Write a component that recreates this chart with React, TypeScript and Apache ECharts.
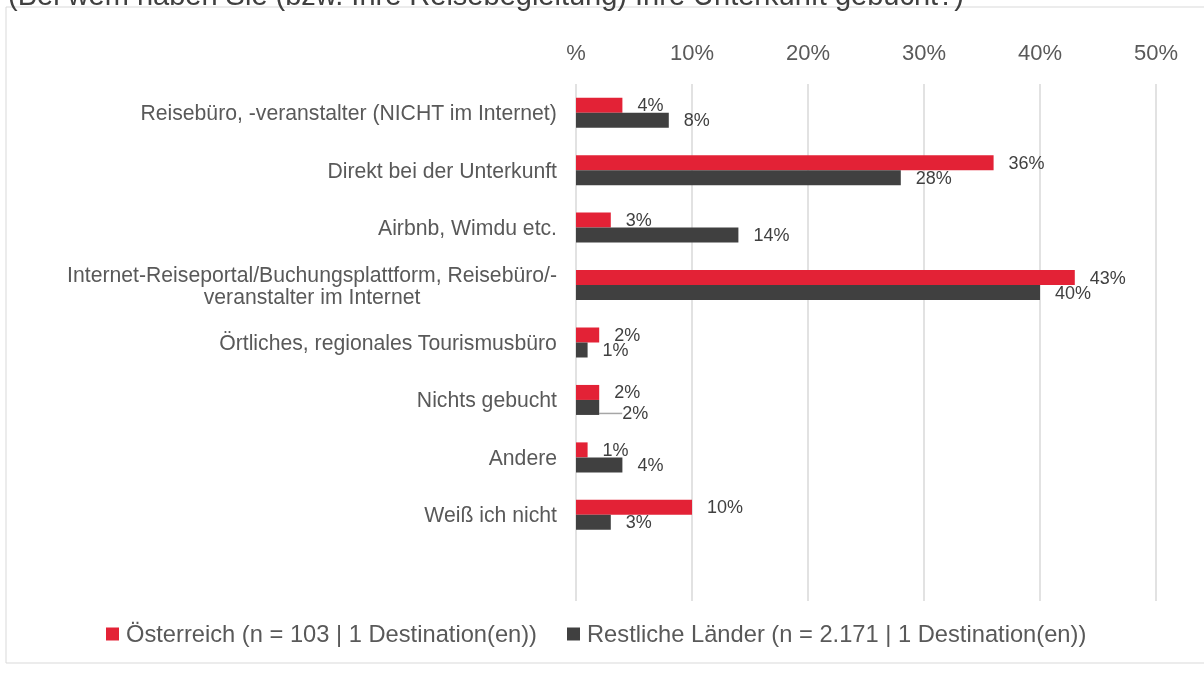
import React, { useEffect, useRef } from "react";
import * as echarts from "echarts";

const categories = [
  "Reisebüro, -veranstalter (NICHT im Internet)",
  "Direkt bei der Unterkunft",
  "Airbnb, Wimdu etc.",
  "Internet-Reiseportal/Buchungsplattform, Reisebüro/-\nveranstalter im Internet",
  "Örtliches, regionales Tourismusbüro",
  "Nichts gebucht",
  "Andere",
  "Weiß ich nicht",
  "",
];
const oesterreich = [4, 36, 3, 43, 2, 2, 1, 10];
const restliche = [8, 28, 14, 40, 1, 2, 4, 3];
const xTicks = [0, 10, 20, 30, 40, 50];
const seriesNames = [
  "Österreich (n = 103 | 1 Destination(en))",
  "Restliche Länder (n = 2.171 | 1 Destination(en))",
];
const titleText = "(Bei wem haben Sie (bzw. Ihre Reisebegleitung) Ihre Unterkunft gebucht?)";
const leaderIndex = 5;

const FONT = "'Liberation Sans', Arial, sans-serif";
const RED = "#E32236";
const DARK = "#404040";

export default function App() {
  const ref = useRef<HTMLDivElement>(null);
  useEffect(() => {
    if (!ref.current) return;
    const chart = echarts.init(ref.current, null, { renderer: "svg" });
    const valueLabel = {
      show: true,
      position: "right",
      distance: 15,
      color: "#404040",
      fontSize: 18,
      fontFamily: FONT,
      formatter: (p: any) => `${p.value}%`,
    };
    chart.setOption({
      animation: false,
      textStyle: { fontFamily: FONT },
      graphic: [
        {
          type: "rect",
          shape: { x: 6, y: 7, width: 1210, height: 656 },
          style: { fill: "none", stroke: "#d9d9d9", lineWidth: 1 },
          silent: true,
        },
        {
          type: "text",
          left: 8,
          top: -20,
          style: { text: titleText, fontSize: 29, fill: "#404040", fontFamily: FONT },
        },
      ],
      grid: { left: 576, right: 48, top: 84, height: 517 },
      xAxis: {
        type: "value",
        position: "top",
        min: 0,
        max: 50,
        interval: 10,
        axisLine: { show: false },
        axisTick: { show: false },
        splitLine: { show: true, lineStyle: { color: "#d9d9d9", width: 1.5 } },
        axisLabel: {
          margin: 21,
          fontSize: 22,
          color: "#595959",
          fontFamily: FONT,
          formatter: (v: number) => (xTicks.includes(v) && v === 0 ? "%" : `${v}%`),
        },
      },
      yAxis: {
        type: "category",
        inverse: true,
        data: categories,
        axisLine: { show: false },
        axisTick: { show: false },
        axisLabel: {
          margin: 19,
          fontSize: 21.2,
          lineHeight: 22,
          color: "#595959",
          fontFamily: FONT,
          formatter: (v: string) =>
            v
              .split("\n")
              .map((l) => `{c|${l}}`)
              .join("\n"),
          rich: { c: { align: "center", fontSize: 21.2, lineHeight: 22, color: "#595959", fontFamily: FONT } },
        },
      },
      legend: {
        bottom: 24,
        left: 101,
        itemWidth: 13,
        itemHeight: 13,
        itemGap: 30,
        icon: "rect",
        textStyle: { fontSize: 23.7, color: "#595959", fontFamily: FONT, padding: [0, 0, 0, 2] },
        data: seriesNames,
      },
      series: [
        {
          name: seriesNames[0],
          type: "bar",
          data: oesterreich,
          barWidth: 15,
          barGap: "0%",
          itemStyle: { color: RED },
          label: valueLabel,
        },
        {
          name: seriesNames[1],
          type: "bar",
          data: restliche.map((v, i) =>
            i === leaderIndex
              ? { value: v, labelLine: { show: true, lineStyle: { color: "#a6a6a6", width: 1.5 } } }
              : v
          ),
          barWidth: 15,
          barGap: "0%",
          itemStyle: { color: DARK },
          label: valueLabel,
          labelLine: { show: false },
          labelLayout: (p: any) => (p.dataIndex === leaderIndex ? { dx: 8, dy: 6 } : {}),
        },
      ],
    });
    return () => chart.dispose();
  }, []);
  return (
    <div
      ref={ref}
      style={{ position: "fixed", left: 0, top: 0, width: 1204, height: 675 }}
    />
  );
}
